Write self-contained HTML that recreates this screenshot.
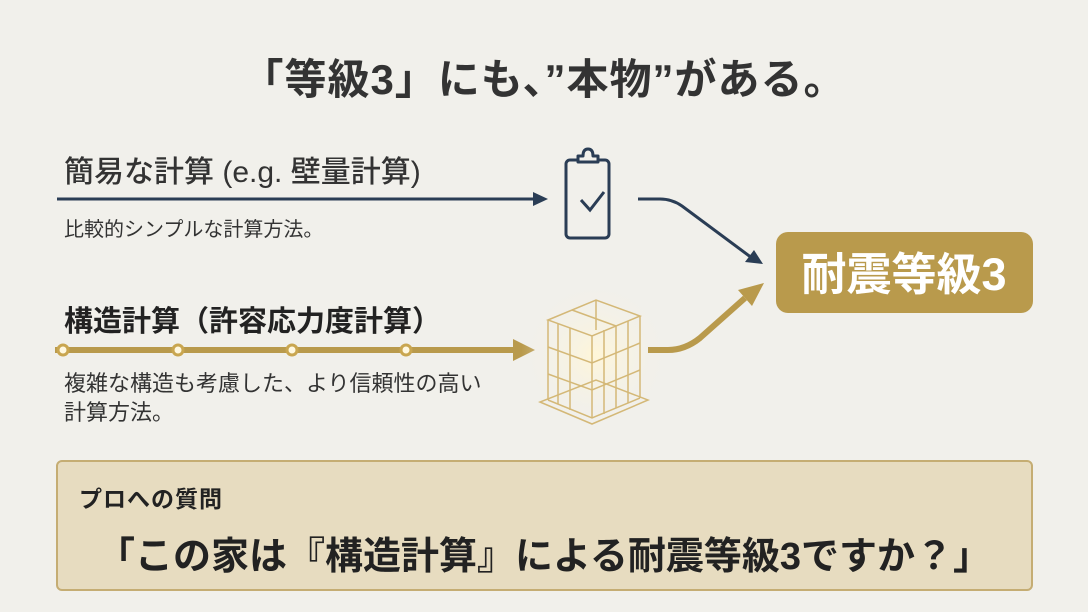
<!DOCTYPE html>
<html><head><meta charset="utf-8"><style>
body{margin:0;width:1088px;height:612px;background:#f1f0eb;font-family:"Liberation Sans","Noto Sans CJK JP",sans-serif;position:relative;overflow:hidden;color:#2b2b2b}
.t{position:absolute;white-space:nowrap}
</style></head><body>
<div class="t" style="left:0;width:1088px;text-align:center;top:46px;font-size:42px;font-weight:bold;color:#333;letter-spacing:1px">「等級3」にも、”本物”がある。</div>
<div class="t" style="left:64px;top:147px;font-size:30px;font-weight:500;color:#333">簡易な計算 (e.g. 壁量計算)</div>
<div class="t" style="left:64px;top:213px;font-size:20px;color:#333">比較的シンプルな計算方法。</div>
<div class="t" style="left:64px;top:298px;font-size:29px;font-weight:bold;color:#222">構造計算（許容応力度計算）</div>
<div class="t" style="left:64px;top:369px;font-size:22px;color:#333;line-height:29px">複雑な構造も考慮した、より信頼性の高い<br>計算方法。</div>
<svg width="1088" height="612" style="position:absolute;left:0;top:0">
<defs><radialGradient id="g"><stop offset="0" stop-color="#fff6d8"/><stop offset="1" stop-color="#f1f0eb" stop-opacity="0"/></radialGradient></defs>
<line x1="57" y1="199" x2="535" y2="199" stroke="#2a3d55" stroke-width="3"/>
<polygon points="548,199 533,192 533,206" fill="#2a3d55"/>
<rect x="566" y="160" width="43" height="78" rx="4" fill="none" stroke="#2a3d55" stroke-width="3"/>
<path d="M578,162 V156 H583 Q583,149 588,149 Q593,149 593,156 H598 V162 Z" fill="#f1f0eb" stroke="#2a3d55" stroke-width="3" stroke-linejoin="round"/>
<polyline points="581,200 590,210 604,192" fill="none" stroke="#2a3d55" stroke-width="3"/>
<path d="M638,199 L660,199 Q672,199 682,206 L752,258" fill="none" stroke="#2a3d55" stroke-width="3"/>
<polygon points="763,264 745,262 754,250" fill="#2a3d55"/>
<rect x="776" y="232" width="257" height="81" rx="12" fill="#b99a4c"/>
<text x="904" y="290" text-anchor="middle" font-size="45" font-weight="bold" fill="#fff" font-family="Liberation Sans,Noto Sans CJK JP,sans-serif">耐震等級3</text>
<line x1="55" y1="350" x2="515" y2="350" stroke="#b99a4c" stroke-width="6"/>
<polygon points="535,350 513,339 513,361" fill="#b99a4c"/>
<g fill="#fff8e0" stroke="#c9a650" stroke-width="3">
<circle cx="63" cy="350" r="5"/><circle cx="178" cy="350" r="5"/><circle cx="292" cy="350" r="5"/><circle cx="406" cy="350" r="5"/></g>
<circle cx="596" cy="355" r="75" fill="url(#g)"/>
<g stroke="#d4b877" stroke-width="1.5" fill="none">
<polygon points="548,320 596,300 640,316 592,336"/>
<line x1="548" y1="320" x2="548" y2="400"/><line x1="592" y1="336" x2="592" y2="418"/><line x1="640" y1="316" x2="640" y2="398"/>
<polyline points="548,347 592,363 640,343"/><polyline points="548,374 592,390 640,370"/><polyline points="548,400 592,418 640,398"/>
<line x1="570" y1="328" x2="570" y2="410"/><line x1="616" y1="326" x2="616" y2="408"/>
<line x1="596" y1="300" x2="596" y2="330"/><line x1="572" y1="310" x2="616" y2="326"/>
<line x1="558" y1="324" x2="558" y2="404"/><line x1="604" y1="330" x2="604" y2="414"/><line x1="628" y1="321" x2="628" y2="403"/>
<polygon points="540,402 592,424 648,400 596,380"/>
</g>
<path d="M648,350 L668,350 Q685,350 700,338 L745,298" fill="none" stroke="#b99a4c" stroke-width="6"/>
<polygon points="764,283 738,290 752,306" fill="#b99a4c"/>
<rect x="57" y="461" width="975" height="129" rx="5" fill="#e7dcc0" stroke="#c5ad73" stroke-width="2"/>
</svg>
<div class="t" style="left:79px;top:480px;font-size:23px;font-weight:bold;color:#222;letter-spacing:1px">プロへの質問</div>
<div class="t" style="left:0;width:1088px;text-align:center;top:525px;font-size:38px;font-weight:bold;color:#222">「この家は『構造計算』による耐震等級3ですか？」</div>
</body></html>
